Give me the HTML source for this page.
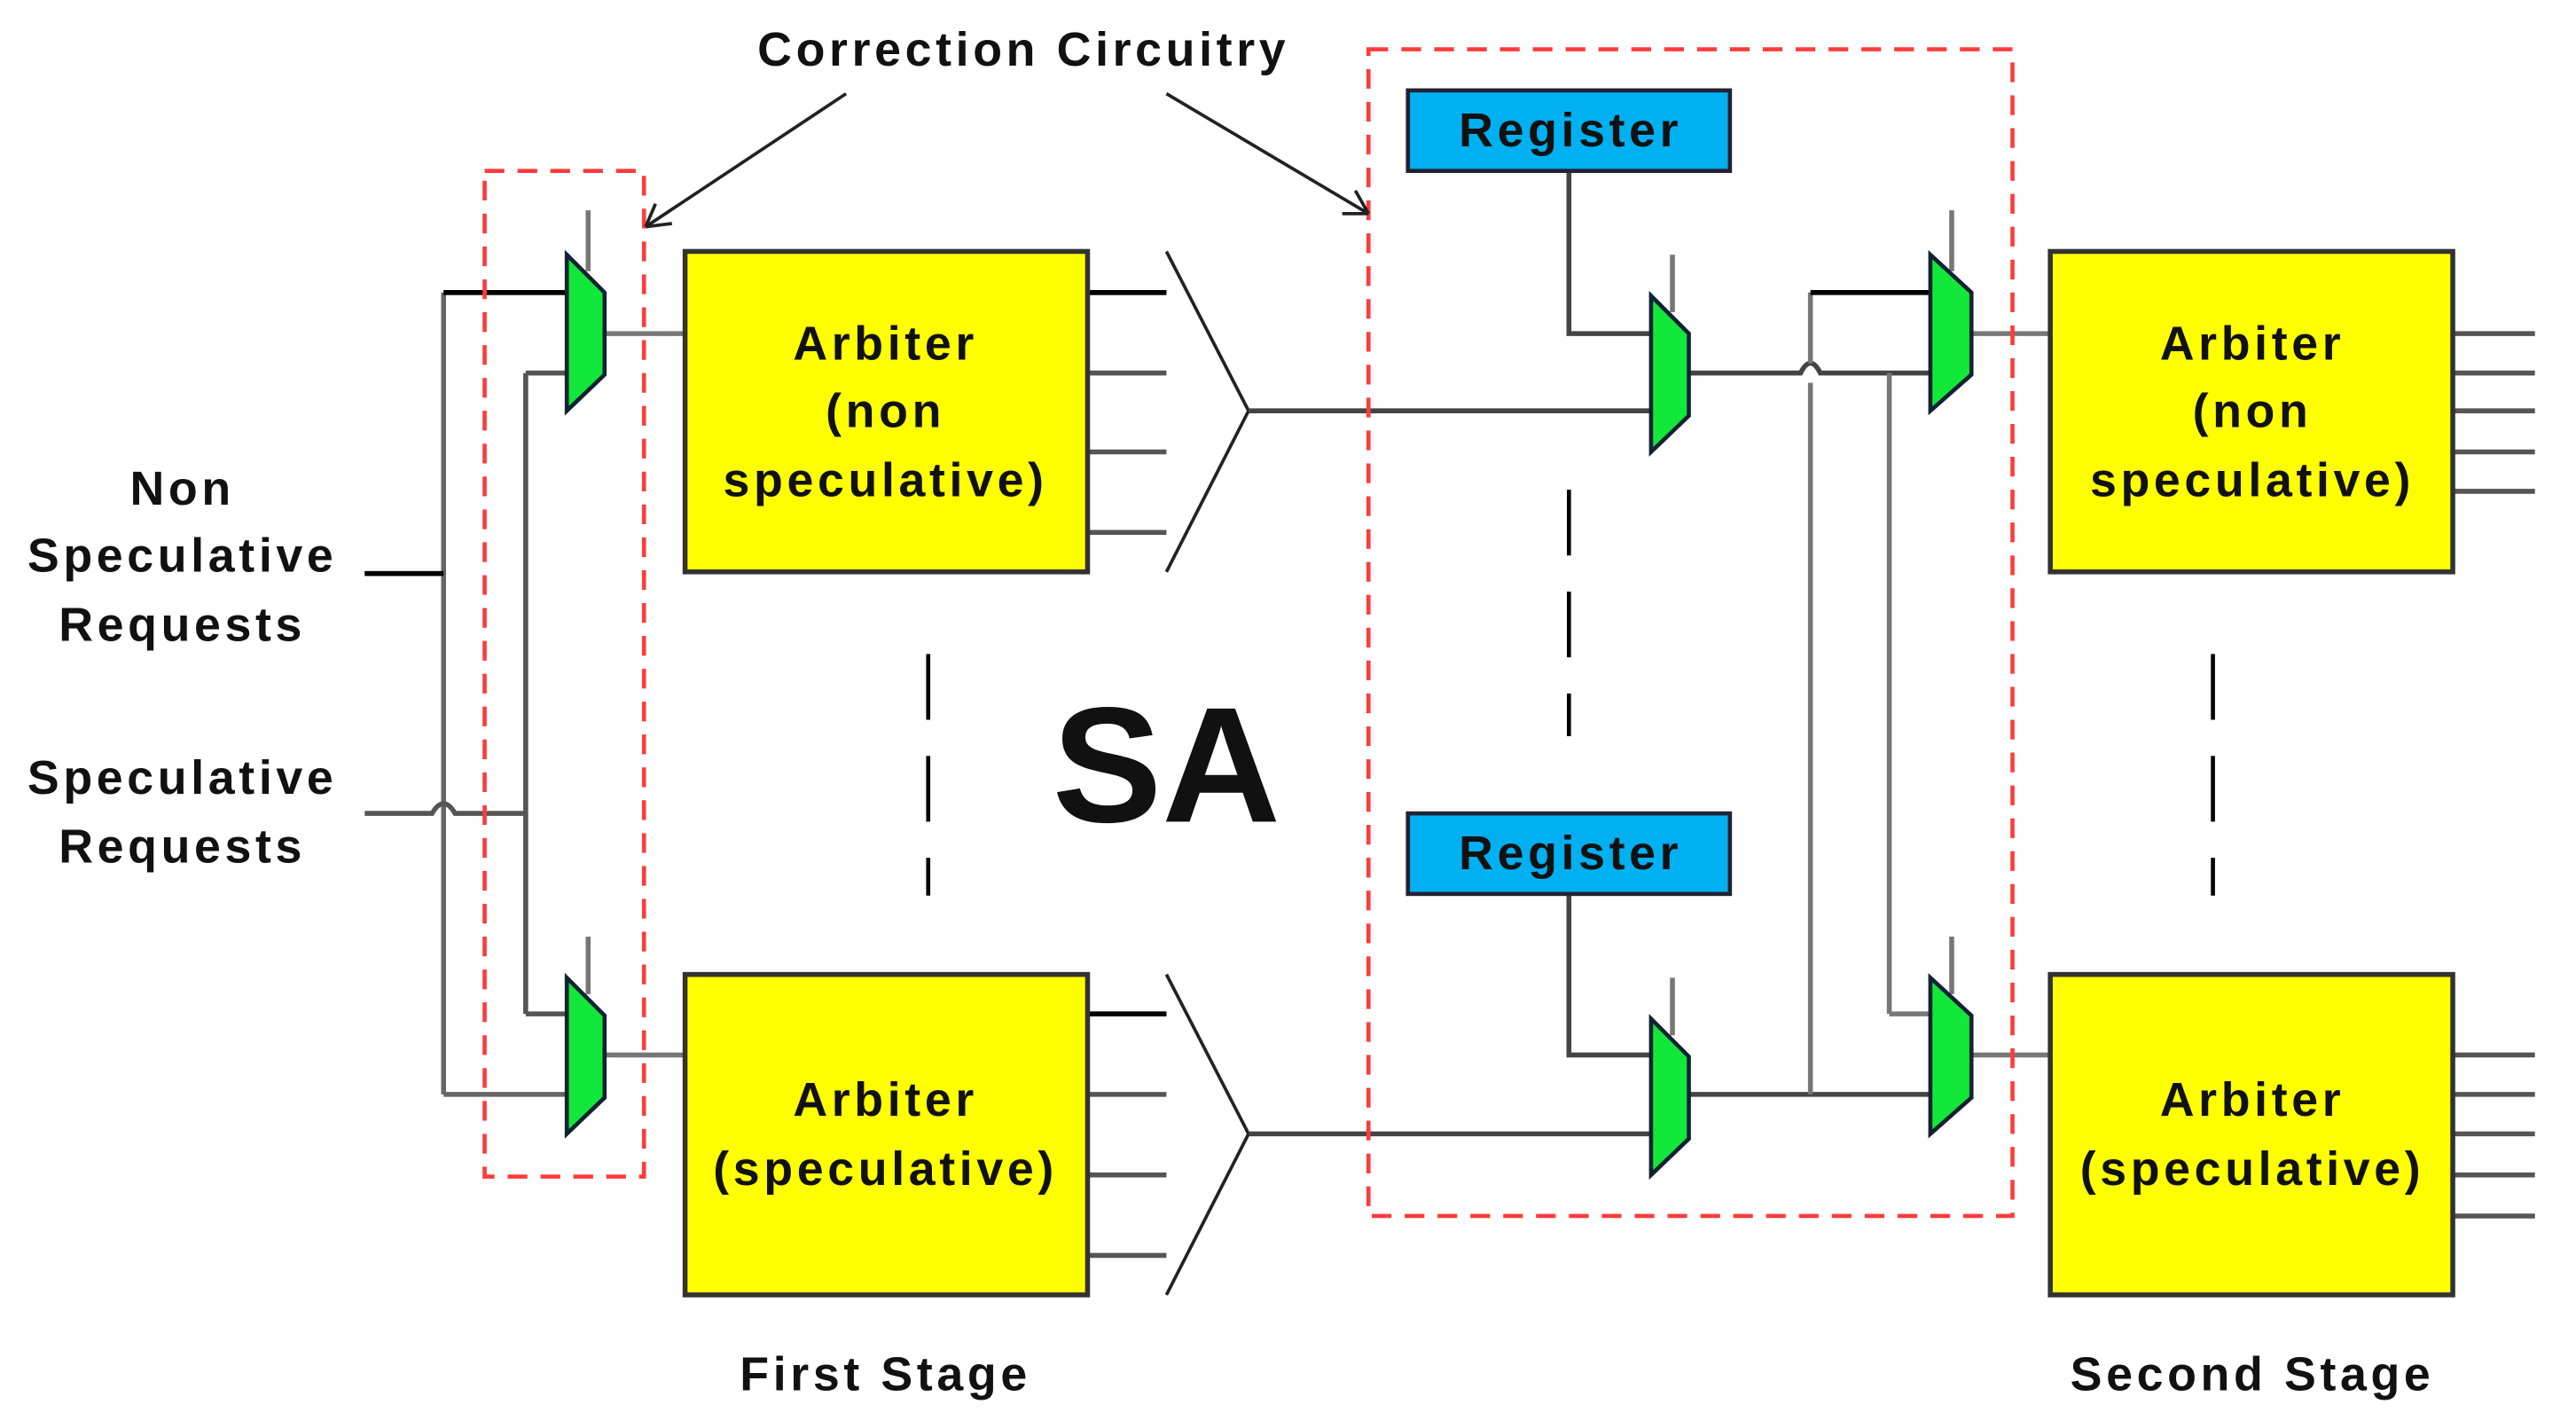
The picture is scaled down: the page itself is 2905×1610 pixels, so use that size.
<!DOCTYPE html>
<html><head><meta charset="utf-8"><style>html,body{margin:0;padding:0;background:#fff}svg{display:block}</style></head>
<body>
<svg width="2905" height="1610" viewBox="0 0 1568 869" xmlns="http://www.w3.org/2000/svg" font-family="Liberation Sans, sans-serif" font-weight="bold">
<rect width="1568" height="869" fill="#fff"/>
<g fill="none" stroke-width="3">
<path d="M222 349H270M270 178V666M270 178H345M270 666H345" stroke="#666"/>
<path d="M270 178H345" stroke="#000"/>
<path d="M222 349H270" stroke="#000"/>
<path d="M222 495H263 q7 -12 14 0 H320M320 227V617M320 227H345M320 617H345" stroke="#555"/>
<path d="M358 128V165M358 570V605M368 203H417M368 642H417" stroke="#777"/>
<path d="M662 178H710M662 227H710M662 275H710M662 324H710M662 617H710M662 666H710M662 715H710M662 764H710" stroke="#555"/>
<path d="M662 178H710M662 617H710" stroke="#000"/>
<path d="M710 153L760 250L710 348M710 593L760 690L710 788" stroke="#222" stroke-width="2"/>
<path d="M760 250H1005M760 690H1005" stroke="#444"/>
<path d="M955 104V203H1005M955 545V642H1005" stroke="#444"/>
<path d="M1018 155V190M1018 595V630M1188 128V165M1188 570V605" stroke="#777"/>
<path d="M1028 227H1096 q6 -12 12 0 H1175M1028 666H1175" stroke="#444"/>
<path d="M1102 178V221M1102 233V666M1150 227V617M1150 617H1175" stroke="#777"/>
<path d="M1102 178H1175" stroke="#000"/>
<path d="M1200 203H1248M1200 642H1248" stroke="#777"/>
<path d="M1493 203H1543M1493 227H1543M1493 250H1543M1493 275H1543M1493 299H1543M1493 642H1543M1493 666H1543M1493 690H1543M1493 715H1543M1493 740H1543" stroke="#555"/>
<path d="M565 398V545M955 298V448M1347 398V545" stroke="#000" stroke-width="2.5" stroke-dasharray="40 22"/>
<rect x="295" y="104" width="97" height="612" stroke="#ff3b3b" stroke-width="2.5" stroke-dasharray="12 8"/>
<rect x="833" y="30" width="392" height="710" stroke="#ff3b3b" stroke-width="2.5" stroke-dasharray="12 8"/>
<path d="M515 57L393 138M393 138l16 -2M393 138l6 -14M710 57L833 130M833 130l-16 0M833 130l-8 -14" stroke="#222" stroke-width="2"/>
</g>
<g fill="#12e83a" stroke="#123" stroke-width="2.5">
<path d="M345 155L368 178V228L345 250Z"/>
<path d="M345 595L368 618V668L345 690Z"/>
<path d="M1005 180L1028 203V253L1005 275Z"/>
<path d="M1005 620L1028 643V693L1005 715Z"/>
<path d="M1175 155L1200 178V228L1175 250Z"/>
<path d="M1175 595L1200 618V668L1175 690Z"/>
</g>
<g fill="#ffff00" stroke="#333" stroke-width="3">
<rect x="417" y="153" width="245" height="195"/>
<rect x="417" y="593" width="245" height="195"/>
<rect x="1248" y="153" width="245" height="195"/>
<rect x="1248" y="593" width="245" height="195"/>
</g>
<g fill="#00b0f0" stroke="#223" stroke-width="2.5">
<rect x="857" y="55" width="196" height="49"/>
<rect x="857" y="495" width="196" height="49"/>
</g>
<g fill="#111" font-size="29" text-anchor="middle" letter-spacing="2.5">
<text x="623" y="40">Correction Circuitry</text>
<text x="111" y="307">Non</text>
<text x="111" y="348">Speculative</text>
<text x="111" y="390">Requests</text>
<text x="111" y="483">Speculative</text>
<text x="111" y="525">Requests</text>
<text x="539" y="219">Arbiter</text>
<text x="539" y="260">(non</text>
<text x="539" y="302">speculative)</text>
<text x="539" y="679">Arbiter</text>
<text x="539" y="721">(speculative)</text>
<text x="1371" y="219">Arbiter</text>
<text x="1371" y="260">(non</text>
<text x="1371" y="302">speculative)</text>
<text x="1371" y="679">Arbiter</text>
<text x="1371" y="721">(speculative)</text>
<text x="956" y="89">Register</text>
<text x="956" y="529">Register</text>
<text x="539" y="846">First Stage</text>
<text x="1371" y="846">Second Stage</text>
<text x="710" y="500" font-size="100" letter-spacing="0">SA</text>
</g>
</svg>
</body></html>
